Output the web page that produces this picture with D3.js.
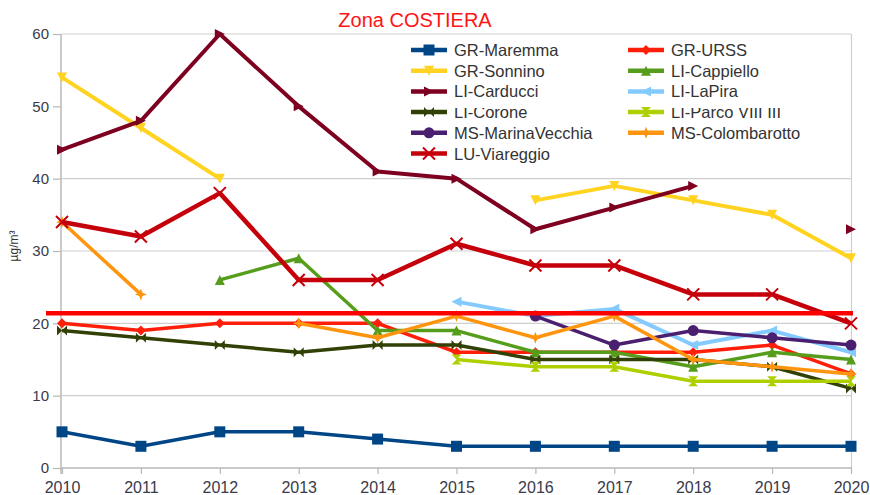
<!DOCTYPE html>
<html>
<head>
<meta charset="utf-8">
<script src="https://cdn.jsdelivr.net/npm/d3@7"></script>
<style>
  html, body { margin: 0; padding: 0; background: #fff; }
  svg { display: block; font-family: "Liberation Sans", Arial, sans-serif; }
</style>
</head>
<body>
<svg id="chart" width="870" height="495"></svg>
<script>
// ---------- DATA ----------
const years = [2010, 2011, 2012, 2013, 2014, 2015, 2016, 2017, 2018, 2019, 2020];
const yTicks = [0, 10, 20, 30, 40, 50, 60];
const gridTicks = [10, 20, 30, 40, 60];
const seriesNames = ["GR-Maremma", "GR-URSS", "GR-Sonnino", "LI-Cappiello", "LI-Carducci",
  "LI-LaPira", "LI-Corone", "LI-Parco VIII III", "MS-MarinaVecchia", "MS-Colombarotto", "LU-Viareggio"];
const seriesColors = ["#004586", "#ff1e0a", "#ffd320", "#579d1c", "#7e0021",
  "#83caff", "#314004", "#aecf00", "#4b1f6f", "#ff950e", "#c5000b"];
const seriesMarkers = ["square", "diamond", "down", "up", "right", "left", "bowtie", "sandglass", "circle", "star", "x"];

const grMaremma       = [5, 3, 5, 5, 4, 3, 3, 3, 3, 3, 3];
const grURSS          = [20, 19, 20, 20, 20, 16, 16, 16, 16, 17, 13];
const grSonnino       = [54, 47, 40, null, null, null, 37, 39, 37, 35, 29];
const liCappiello     = [null, null, 26, 29, 19, 19, 16, 16, 14, 16, 15];
const liCarducci      = [44, 48, 60, 50, 41, 40, 33, 36, 39, null, 33];
const liLaPira        = [null, null, null, null, null, 23, 21, 22, 17, 19, 16];
const liCorone        = [19, 18, 17, 16, 17, 17, 15, 15, 15, 14, 11];
const liParco         = [null, null, null, null, null, 15, 14, 14, 12, 12, 12];
const msMarinaVecchia = [null, null, null, null, null, null, 21, 17, 19, 18, 17];
const msColombarotto  = [34, 24, null, 20, 18, 21, 18, 21, 15, 14, 13];
const luViareggio     = [34, 32, 38, 26, 26, 31, 28, 28, 24, 24, 20];
const limitValue = 21.4;

const seriesValues = [grMaremma, grURSS, grSonnino, liCappiello, liCarducci, liLaPira,
  liCorone, liParco, msMarinaVecchia, msColombarotto, luViareggio];

// ---------- CHART ----------
const svg = d3.select("#chart");
const x = d3.scaleLinear().domain([2010, 2020]).range([62, 851]);
const y = d3.scaleLinear().domain([0, 60]).range([468, 34]);

// title
svg.append("text").attr("x", 415).attr("y", 27).attr("text-anchor", "middle")
  .attr("fill", "#ff1414").attr("font-size", 20).text("Zona COSTIERA");

// gridlines
svg.append("g").selectAll("line").data(gridTicks).join("line")
  .attr("x1", x(2010)).attr("x2", x(2020))
  .attr("y1", d => y(d)).attr("y2", d => y(d))
  .attr("stroke", "#cfcfcf").attr("stroke-width", 1.2);

// right border
svg.append("line").attr("x1", x(2020) + 0.5).attr("x2", x(2020) + 0.5)
  .attr("y1", y(60)).attr("y2", y(0)).attr("stroke", "#cfcfcf").attr("stroke-width", 1.2);

// axes
const yAxis = d3.axisLeft(y).tickValues(yTicks).tickSize(8).tickPadding(4).tickFormat(d3.format("d"));
const gy = svg.append("g").attr("transform", `translate(${x(2010) - 1},0)`).call(yAxis);
gy.select(".domain").attr("stroke", "#b8b8b8").attr("stroke-width", 1.5).attr("d", `M0,${y(60)}V${y(0) + 6}`);
gy.selectAll(".tick line").attr("stroke", "#b8b8b8").attr("stroke-width", 1.2);
gy.selectAll(".tick text").attr("fill", "#3a3a4a").attr("font-size", 15).attr("font-family", "Liberation Sans, Arial, sans-serif");

const xAxis = d3.axisBottom(x).tickValues(years).tickSize(6).tickPadding(8).tickFormat(d3.format("d"));
const gx = svg.append("g").attr("transform", `translate(0,${y(0)})`).call(xAxis);
gx.select(".domain").attr("stroke", "#b8b8b8").attr("stroke-width", 1.5).attr("d", `M${x(2010) - 1},0H${x(2020) + 1}`);
gx.selectAll(".tick line").attr("stroke", "#b8b8b8").attr("stroke-width", 1.2);
gx.selectAll(".tick text").attr("fill", "#3a3a4a").attr("font-size", 16).attr("font-family", "Liberation Sans, Arial, sans-serif");

// y label
svg.append("text").attr("transform", "translate(18,246) rotate(-90)").attr("text-anchor", "middle")
  .attr("font-size", 12).attr("fill", "#333").text("µg/m³");

// marker path generator
function markerPath(type, s) {
  switch (type) {
    case "square": return `M${-s},${-s}H${s}V${s}H${-s}Z`;
    case "diamond": return `M0,${-s}L${s},0L0,${s}L${-s},0Z`;
    case "down": return `M${-s},${-s}L${s},${-s}L0,${s}Z`;
    case "up": return `M${-s},${s}L${s},${s}L0,${-s}Z`;
    case "right": return `M${-s},${-s}L${s},0L${-s},${s}Z`;
    case "left": return `M${s},${-s}L${-s},0L${s},${s}Z`;
    case "bowtie": return `M${-s},${-s}L${s},${s}L${s},${-s}L${-s},${s}Z`;
    case "sandglass": return `M${-s},${-s}L${s},${-s}L${-s},${s}L${s},${s}Z`;
    case "circle": return d3.symbol(d3.symbolCircle, Math.PI * s * s)();
    case "star": { const a = s * 0.28; return `M0,${-s}L${a},${-a}L${s},0L${a},${a}L0,${s}L${-a},${a}L${-s},0L${-a},${-a}Z`; }
    case "x": return `M${-s},${-s}L${s},${s}M${s},${-s}L${-s},${s}`;
  }
}
const markerSize = { square: 5.5, diamond: 5, down: 5, up: 5, right: 5, left: 5, bowtie: 5, sandglass: 5, circle: 5.5, star: 6, x: 6 };

function drawMarker(g, type, color, cx, cy) {
  const p = g.append("path").attr("transform", `translate(${cx},${cy})`).attr("d", markerPath(type, markerSize[type]));
  if (type === "x") p.attr("fill", "none").attr("stroke", color).attr("stroke-width", 2);
  else p.attr("fill", color);
}

const line = d3.line().defined(d => d.v != null).x(d => x(d.year)).y(d => y(d.v));

const plot = svg.append("g");
const lineWidths = [3.5, 3.5, 4, 3.5, 4, 4, 3.5, 3.5, 3.5, 3.5, 4.5];
seriesValues.forEach((vals, i) => {
  const pts = years.map((yr, j) => ({ year: yr, v: vals[j] }));
  plot.append("path").datum(pts).attr("d", line).attr("fill", "none")
    .attr("stroke", seriesColors[i]).attr("stroke-width", lineWidths[i])
    .attr("stroke-linejoin", "round");
  const g = plot.append("g");
  pts.filter(d => d.v != null).forEach(d => drawMarker(g, seriesMarkers[i], seriesColors[i], x(d.year), y(d.v)));
});

// limit line
svg.append("line").attr("x1", 46).attr("x2", x(2020) + 2)
  .attr("y1", y(limitValue)).attr("y2", y(limitValue))
  .attr("stroke", "#ff0000").attr("stroke-width", 4.5);

// legend
const legend = svg.append("g");
const defs = svg.append("defs");
seriesNames.forEach((name, i) => {
  const col = i % 2, row = Math.floor(i / 2);
  const lx = col === 0 ? 411 : 628;
  const ly = 50 + row * 20.7;
  const g = legend.append("g");
  g.append("line").attr("x1", lx).attr("x2", lx + 36).attr("y1", ly).attr("y2", ly)
    .attr("stroke", seriesColors[i]).attr("stroke-width", 4.5);
  drawMarker(g, seriesMarkers[i], seriesColors[i], lx + 18, ly);
  const t = g.append("text").attr("x", lx + 43).attr("y", ly + 6).attr("font-size", 16.5)
    .attr("fill", "#333").text(name);
  if (row === 3) {
    defs.append("clipPath").attr("id", "clip" + i).append("rect")
      .attr("x", lx + 40).attr("y", ly - 4).attr("width", 200).attr("height", 20);
    t.attr("clip-path", `url(#clip${i})`);
  }
});
</script>
</body>
</html>
